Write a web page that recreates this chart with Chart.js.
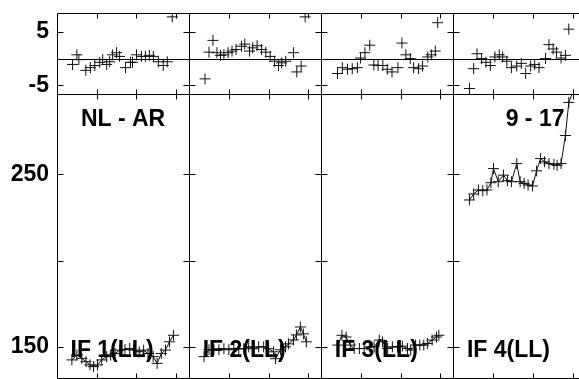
<!DOCTYPE html>
<html>
<head>
<meta charset="utf-8">
<script src="https://cdn.jsdelivr.net/npm/chart.js@4.4.1/dist/chart.umd.min.js"></script>
<style>
  html, body { margin: 0; padding: 0; background: #fff; overflow: hidden; }
  #wrap { width: 579px; height: 379px; overflow: hidden; }
</style>
</head>
<body>
<div id="wrap"><canvas id="chart" width="592" height="384"></canvas></div>
<script>
// panel titles
const panelNames = ['IF 1(LL)', 'IF 2(LL)', 'IF 3(LL)', 'IF 4(LL)'];
const leftTitle = 'NL - AR';
const rightTitle = '9 - 17';

// tick values
const xTicks = [10, 20, 30];
const residTicks = [-5, 0, 5];
const fluxTicks = [150, 200, 250];

// residuals (top strip), [x, y]
const res1 = [[3.9,-1.1],[5.0,0.7],[5.5,-0.2],[7.25,-2.2],[8.4,-1.7],[9.5,-1.3],[10.75,-0.7],[11.5,-0.2],[12.5,-1.1],[13.25,-0.6],[14,0.7],[15,1.1],[15.75,0.4],[17.25,-1.7],[18.5,-0.7],[19,-0.7],[20,0.7],[21.25,0.4],[22.25,0.4],[23.25,0.6],[24.25,0.4],[25.5,-0.6],[26.75,-1.3],[27.75,-0.6],[29,7.8]];
const res2 = [[4,-3.8],[5,1.2],[6,3.4],[7,1.1],[7.9,0.6],[8.75,0.7],[9.8,1.1],[10.8,1.4],[11.8,1.7],[13.2,2.3],[14,2.7],[15.2,1.4],[16,2.0],[17.1,2.4],[18.2,1.7],[19.3,1.2],[20.4,0.4],[21.5,-0.5],[22.5,-1.3],[23.3,-0.8],[24.3,-0.5],[26.25,1.1],[27.1,-2.5],[28.2,-1.4],[29.2,7.8]];
const res3 = [[4.1,-2.8],[5.3,-1.7],[6.6,-2.0],[7.8,-1.9],[9.1,-1.7],[9.9,0.1],[11,1.1],[12.2,2.5],[13.25,-1.2],[14.3,-1.3],[15.5,-1.3],[16.6,-2.0],[17.8,-2.5],[19.3,-1.7],[20.3,2.9],[21.3,0.7],[22.4,0],[23.25,-1.7],[24.5,-1.9],[25.5,-1.4],[26.8,0.3],[27.7,0.7],[28.7,1.4],[29.3,6.7]];
const res4 = [[4.05,-5.6],[5.1,-1.9],[5.95,0.9],[7.1,0],[8.2,-0.7],[9.3,-1.3],[10.45,0.3],[11.55,0.7],[12.4,0.3],[13.45,-0.5],[14.6,-1.7],[15.95,-1.4],[17.1,-0.9],[18.2,-2.8],[19.45,-1.4],[20.45,-1.1],[21.55,-1.7],[23.2,0],[24.05,2.6],[25.1,1.8],[25.95,1.2],[27.1,0.1],[28.2,0.6],[29.05,5.5]];

// main values (bottom panel), [x, y]
const val1 = [[3.75,142.4],[5,145.2],[6.25,143.3],[7.3,141.4],[8.3,139.5],[9.2,138.5],[10.2,139.5],[11.25,142.4],[12.5,144.3],[13.5,145.2],[14.6,146.1],[15.8,148.1],[17.1,148.4],[18.3,149.0],[19.3,148.1],[20.7,147.1],[21.8,148.1],[22.9,146.1],[24.2,144.3],[25.2,140.4],[26.25,146.1],[27.3,148.1],[28.3,152.9],[29.3,156.7]];
const val2 = [[3.75,144.3],[5,148.3],[6.25,148.3],[7.5,148.3],[8.75,148.9],[10,148.3],[11.25,148.9],[12.5,148.9],[13.75,148.9],[15,150],[16.25,148.9],[17.5,150],[18.75,150],[20,148.9],[21.25,147.1],[21.75,143.1],[23,148.3],[24.25,150],[25,151.7],[26.25,154],[27,156.9],[28,161.5],[28.75,157.5],[29.5,152.9]];
const val3 = [[4.2,151],[5.2,156.7],[6.25,155.7],[7.3,151],[8.3,149],[9.6,149],[10.8,149],[12.1,150],[13.3,150],[14.6,153.9],[15.4,152.9],[16.7,149],[17.9,150],[19.2,150],[20.4,150.4],[21.7,149],[22.5,148.1],[23.75,151],[24.8,151],[25.8,151],[26.7,151.9],[27.9,153.9],[29,155.7],[29.6,156.7]];
const val4 = [[4.05,235.2],[5.1,238.7],[6.3,241],[7.4,240.6],[8.45,241],[9.45,245.2],[10.1,253.4],[11.3,245.8],[12.6,249.6],[13.6,246.4],[14.6,245.8],[15.95,256.3],[16.8,245.8],[17.8,244.8],[18.8,243.9],[19.9,243.3],[20.95,252.1],[21.95,259.2],[22.95,257.3],[24.05,256.3],[25.3,255.9],[26.1,255.3],[27.1,256.3],[28.2,272.6],[29.05,291.8],[30.75,302]];

const residSets = [res1, res2, res3, res4];
const valSets = [val1, val2, val3, val4];

const boldFont = { family: '"Liberation Sans", Arial, sans-serif', size: 23, weight: 'bold' };
const fontStr = 'bold 23px "Liberation Sans", Arial, sans-serif';

const datasets = [];
residSets.forEach((d, i) => {
    datasets.push({
        data: d.map(([x, y]) => ({ x, y })),
        xAxisID: 'x' + (i + 1),
        yAxisID: 'yr',
        showLine: false,
        pointStyle: 'cross',
        pointRadius: 5.5,
        pointBorderColor: '#111',
        pointBorderWidth: 1
    });
});
valSets.forEach((d, i) => {
    datasets.push({
        data: d.map(([x, y]) => ({ x, y })),
        xAxisID: 'x' + (i + 1),
        yAxisID: 'yb',
        showLine: true,
        borderColor: '#111',
        borderWidth: 1,
        pointStyle: 'cross',
        pointRadius: 5.5,
        pointBorderColor: '#111',
        pointBorderWidth: 1
    });
});

// no extra room for labels that stick out of the panels
const noPad = s => {
    s.paddingTop = 0; s.paddingBottom = 0; s.paddingLeft = 0; s.paddingRight = 0;
};

const scales = {};
for (let i = 1; i <= 4; i++) {
    scales['x' + i] = {
        type: 'linear',
        position: 'bottom',
        stack: 'cols',
        stackWeight: 1,
        min: 0,
        max: 33.25,
        ticks: { display: false },
        grid: { display: false, drawTicks: false },
        border: { display: false },
        afterFit: s => { s.height = 0; noPad(s); }
    };
}
scales.yr = {
    type: 'linear',
    position: 'left',
    stack: 'rows',
    stackWeight: 82,
    weight: 1,
    min: -6.67,
    max: 8.52,
    afterBuildTicks: s => { s.ticks = residTicks.map(v => ({ value: v })); },
    ticks: { autoSkip: false, callback: v => (v === 0 ? '' : String(v)), font: boldFont, color: '#000', padding: 8 },
    grid: { display: false, drawTicks: false },
    border: { display: false },
    afterFit: s => { s.width = 57; noPad(s); }
};
scales.yb = {
    type: 'linear',
    position: 'left',
    stack: 'rows',
    stackWeight: 286,
    weight: 0,
    min: 132.2,
    max: 296.55,
    afterBuildTicks: s => { s.ticks = fluxTicks.map(v => ({ value: v })); },
    ticks: { autoSkip: false, callback: v => (v === 200 ? '' : String(v)), font: boldFont, color: '#000', padding: 8 },
    grid: { display: false, drawTicks: false },
    border: { display: false },
    afterFit: s => { s.width = 57; noPad(s); }
};

const crisp = v => Math.round(v) + 0.5;

// clip each series to its own panel, then draw frames, ticks and texts
const panelPlugin = {
    id: 'panels',
    beforeDatasetDraw(chart, args) {
        const { xScale, yScale } = args.meta;
        const ctx = chart.ctx;
        ctx.save();
        ctx.beginPath();
        const top = yScale.id === 'yr' ? 0 : yScale.top;
        ctx.rect(xScale.left, top, xScale.width, yScale.bottom - top);
        ctx.clip();
    },
    afterDatasetDraw(chart) {
        chart.ctx.restore();
    },
    afterDatasetsDraw(chart) {
        const ctx = chart.ctx;
        const yr = chart.scales.yr, yb = chart.scales.yb;
        ctx.save();
        ctx.strokeStyle = '#000';
        ctx.lineWidth = 1;
        ctx.beginPath();
        for (let i = 1; i <= 4; i++) {
            const xs = chart.scales['x' + i];
            const l = crisp(xs.left), r = crisp(xs.right);
            [[yr, residTicks.filter(v => v !== 0)], [yb, fluxTicks]].forEach(([ys, tv]) => {
                const t = crisp(ys.top), b = crisp(ys.bottom);
                ctx.rect(l, t, r - l, b - t);
                tv.forEach(v => {
                    const y = crisp(ys.getPixelForValue(v));
                    ctx.moveTo(l, y); ctx.lineTo(l + 6, y);
                    ctx.moveTo(r - 6, y); ctx.lineTo(r, y);
                });
                xTicks.forEach(v => {
                    const x = crisp(xs.getPixelForValue(v));
                    ctx.moveTo(x, t); ctx.lineTo(x, t + 5);
                    ctx.moveTo(x, b - 5); ctx.lineTo(x, b);
                });
            });
            const y0 = crisp(yr.getPixelForValue(0));
            ctx.moveTo(l, y0); ctx.lineTo(r, y0);
        }
        ctx.stroke();

        ctx.fillStyle = '#000';
        ctx.font = fontStr;
        ctx.textBaseline = 'alphabetic';
        const x1 = chart.scales.x1, x4 = chart.scales.x4;
        ctx.textAlign = 'center';
        ctx.fillText(leftTitle, (x1.left + x1.right) / 2, yb.top + 32);
        ctx.textAlign = 'right';
        ctx.fillText(rightTitle, x4.right - 21, yb.top + 32);
        ctx.textAlign = 'left';
        panelNames.forEach((name, i) => {
            const xs = chart.scales['x' + (i + 1)];
            ctx.fillText(name, xs.left + 13.5, yb.getPixelForValue(150) + 10);
        });
        ctx.restore();
    }
};

new Chart(document.getElementById('chart').getContext('2d'), {
    type: 'scatter',
    data: { datasets },
    options: {
        responsive: false,
        animation: false,
        layout: { padding: { top: 13, right: 1, bottom: 1, left: 0 } },
        plugins: { legend: { display: false }, tooltip: { enabled: false } },
        scales
    },
    plugins: [panelPlugin]
});
</script>
</body>
</html>
